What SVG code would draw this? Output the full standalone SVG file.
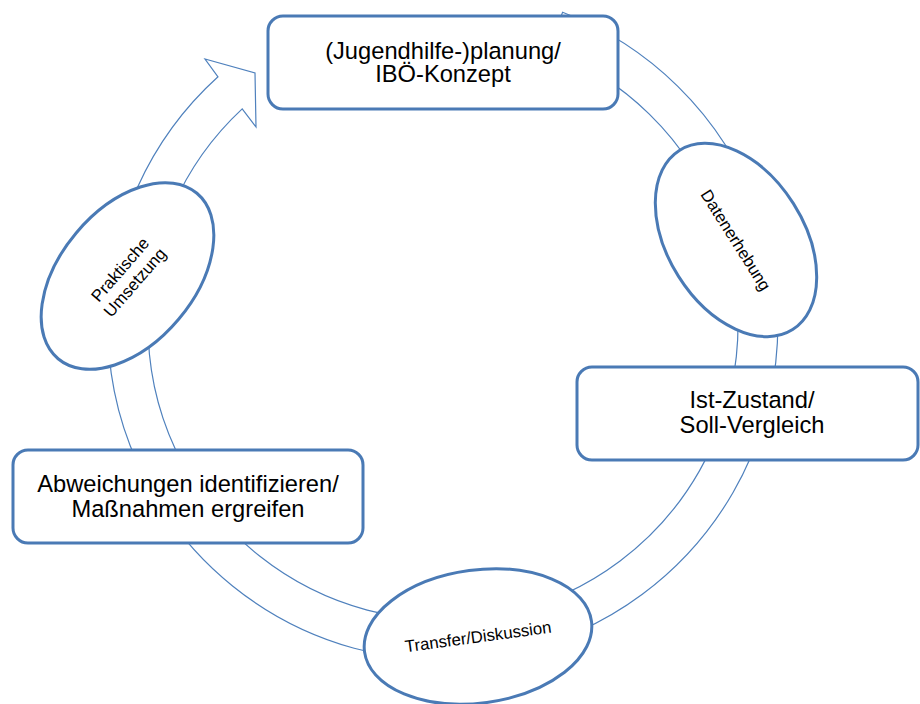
<svg xmlns="http://www.w3.org/2000/svg" width="920" height="704" viewBox="0 0 920 704">
<style>
.ring{fill:#ffffff;stroke:#4f81bd;stroke-width:1.2;stroke-linejoin:miter}
.box{fill:#ffffff;stroke:#4a7ab5;stroke-width:3}
.ell{fill:#ffffff;stroke:#4a7ab5;stroke-width:3}
.big{font-family:"Liberation Sans",Arial,sans-serif;font-size:23.7px;fill:#000000;text-anchor:middle}
.small{font-family:"Liberation Sans",Arial,sans-serif;font-size:16.8px;fill:#000000;text-anchor:middle}
</style>
<rect width="920" height="704" fill="#ffffff"/>
<g id="connectors">
<path class="ring" d="M562.6,12.3 A335,335 0 1 1 218,76.8 L205,59 L255,73 L256,127 L242.2,108.9 A295,295 0 1 0 548.2,49.4 Z"/>
</g>
<g id="node-planung">
<rect class="box" x="268" y="16" width="350" height="93" rx="15" ry="15"/>
<text class="big" x="443" y="58.5">(Jugendhilfe-)planung/</text>
<text class="big" x="443" y="82">IBÖ-Konzept</text>
</g>
<g id="node-datenerhebung">
<ellipse class="ell" cx="0" cy="0" rx="106" ry="68" transform="translate(736,240) rotate(57.7)"/>
<text class="small" x="0" y="6" transform="translate(736,240) rotate(57.7)">Datenerhebung</text>
</g>
<g id="node-ist">
<rect class="box" x="577" y="367" width="341" height="93" rx="15" ry="15"/>
<text class="big" x="752" y="408">Ist-Zustand/</text>
<text class="big" x="752" y="432.5">Soll-Vergleich</text>
</g>
<g id="node-transfer">
<ellipse class="ell" cx="0" cy="0" rx="114.5" ry="66.5" transform="translate(478,636.5) rotate(-7.7)"/>
<text class="small" x="0" y="6" transform="translate(478,636.5) rotate(-7.7)">Transfer/Diskussion</text>
</g>
<g id="node-abweichungen">
<rect class="box" x="13" y="450" width="350" height="93" rx="15" ry="15"/>
<text class="big" x="188" y="491.7">Abweichungen identifizieren/</text>
<text class="big" x="188" y="516.7">Maßnahmen ergreifen</text>
</g>
<g id="node-praktische">
<ellipse class="ell" cx="0" cy="0" rx="108" ry="67" transform="translate(127.5,276) rotate(-50)"/>
<text class="small" x="0" y="-4" transform="translate(127.5,276) rotate(-49)">Praktische</text>
<text class="small" x="0" y="15.5" transform="translate(127.5,276) rotate(-49)">Umsetzung</text>
</g>
</svg>
